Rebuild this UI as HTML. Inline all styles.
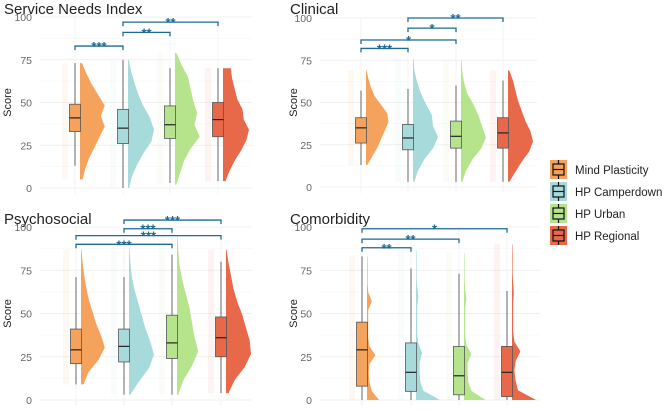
<!DOCTYPE html>
<html><head><meta charset="utf-8"><style>
body{margin:0;background:#fff;font-family:"Liberation Sans",sans-serif}
svg{display:block}
</style></head><body>
<svg id="c" width="669" height="410"></svg>
<script>
const groups=["Mind Plasticity","HP Camperdown","HP Urban","HP Regional"];
const colors=["#f5a35c","#a6dadb","#b5e48c","#e8694a"];
const panelTitles=["Service Needs Index","Clinical","Psychosocial","Comorbidity"];
const yTicks=[0,25,50,75,100];
// box stats: [lower whisker, q1, median, q3, upper whisker]
const boxSNI=[[13,33,41,49,73],[0,26,35,46,75],[3,29,37,48,70],[4,30,40,50,70]];
const boxCLI=[[13,26,35,41,57],[3,22,29,37,58],[3,23,30,39,60],[3,23,32,41,63]];
const boxPSY=[[9,21,29,41,71],[3,22,31,41,71],[3,24,33,49,84],[4,25,36,48,80]];
const boxCOM=[[0,8,29,45,83],[0,5,16,33,76],[0,3,14,31,73],[0,2,16,31,63]];
// violin ranges [min,max]
const rngSNI=[[5,73],[0,75],[2,79],[4,70]];
const rngCLI=[[13,69],[3,76],[3,75],[3,69]];
const rngPSY=[[9,87],[3,88],[3,95],[4,87]];
const rngCOM=[[0,83],[0,87],[0,85],[0,90]];
// relative density sampled evenly from min to max
const denSNI=[[0.1,0.2,0.35,0.55,0.75,0.95,0.8,0.95,0.7,0.45,0.25,0.08],[0.05,0.15,0.35,0.6,0.9,1,0.85,0.6,0.4,0.25,0.12,0.03],[0.05,0.2,0.35,0.6,0.95,0.75,0.85,0.7,0.6,0.5,0.25,0.05],[0.1,0.25,0.45,0.7,0.9,1,0.8,0.75,0.55,0.45,0.35,0.3]];
const denCLI=[[0.05,0.25,0.45,0.6,0.75,0.9,0.85,0.6,0.35,0.2,0.1,0.02],[0.05,0.2,0.45,0.8,1,0.8,0.75,0.5,0.3,0.15,0.05,0.02],[0.05,0.2,0.45,0.8,1,0.85,0.7,0.5,0.25,0.12,0.05,0.02],[0.05,0.3,0.55,0.85,1,0.9,0.7,0.55,0.4,0.3,0.2,0.05]];
const denPSY=[[0.1,0.3,0.7,0.95,0.8,0.6,0.45,0.3,0.2,0.12,0.06,0.02],[0.05,0.4,0.8,1,0.85,0.65,0.5,0.35,0.2,0.1,0.05,0.02],[0.05,0.25,0.6,0.85,0.7,0.6,0.5,0.35,0.2,0.1,0.05,0.02],[0.1,0.35,0.75,1,0.95,0.8,0.65,0.45,0.3,0.2,0.1,0.02]];
const denCOM=[[1,0.4,0.2,0.15,0.2,0.7,0.2,0.1,0.1,0.1,0.1,0.4,0.1,0.05,0.05,0.05,0.03],[2,0.6,0.35,0.3,0.3,0.5,0.2,0.1,0.1,0.1,0.1,0.2,0.1,0.05,0.05,0.05,0.03],[1.8,0.6,0.35,0.3,0.3,0.6,0.2,0.1,0.1,0.1,0.1,0.2,0.1,0.05,0.05,0.05,0.03],[2,0.5,0.3,0.2,0.3,0.7,0.2,0.1,0.1,0.1,0.1,0.15,0.1,0.05,0.05,0.05,0.03]];
// brackets [groupA, groupB, yValue, label]
const brSNI=[[0,1,83,"***"],[1,2,91,"**"],[1,3,97,"**"]];
const brCLI=[[0,1,82,"***"],[0,2,87,"*"],[1,2,94,"*"],[1,3,100,"**"]];
const brPSY=[[0,2,90,"***"],[0,3,95,"***"],[1,2,99,"***"],[1,3,104,"***"]];
const brCOM=[[0,1,88,"**"],[0,2,93,"**"],[0,3,99,"*"]];

const panels=[
 {title:panelTitles[0],box:boxSNI,rng:rngSNI,den:denSNI,br:brSNI,x0:40,x1:252,y100:17,y0:188,gx:[75,123,170,218],ty:14,w:26},
 {title:panelTitles[1],box:boxCLI,rng:rngCLI,den:denCLI,br:brCLI,x0:320,x1:537,y100:18,y0:187,gx:[361,408,456,503],ty:14,w:25},
 {title:panelTitles[2],box:boxPSY,rng:rngPSY,den:denPSY,br:brPSY,x0:40,x1:252,y100:227,y0:400,gx:[76,124,172,221],ty:224,w:25},
 {title:panelTitles[3],box:boxCOM,rng:rngCOM,den:denCOM,br:brCOM,x0:320,x1:540,y100:227,y0:400,gx:[362,411,459,507],ty:224,w:12}
];
const svg=document.getElementById('c');
const NS="http://www.w3.org/2000/svg";
function el(t,a,p){const e=document.createElementNS(NS,t);for(const k in a)e.setAttribute(k,a[k]);(p||svg).appendChild(e);return e;}
panels.forEach((P,pi)=>{
 const g=el('g',{});
 
 
 const y=v=>P.y0+(P.y100-P.y0)*v/100;
 const tx=pi%2===0?4:290;
 const t=el('text',{x:tx,y:P.ty,'font-size':15,fill:'#222'},g);t.textContent=P.title;
 
 
 yTicks.forEach(v=>{
  el('line',{x1:P.x0,x2:P.x1,y1:y(v),y2:y(v),stroke:'#ececec','stroke-width':0.8},g);
  const l=el('text',{x:P.x0-8,y:y(v)+4,'font-size':10.5,fill:'#666','text-anchor':'end'},g);l.textContent=v;
  
  
 });
 [12.5,37.5,62.5,87.5].forEach(v=>el('line',{x1:P.x0,x2:P.x1,y1:y(v),y2:y(v),stroke:'#f5f5f5','stroke-width':0.6},g));
 P.gx.forEach(x=>el('line',{x1:x,x2:x,y1:y(100),y2:y(0)+6,stroke:'#f0f0f0','stroke-width':0.8},g));
 const yl=el('text',{x:0,y:0,'font-size':11,fill:'#222','text-anchor':'middle',transform:`translate(${pi%2===0?11:297},${(y(0)+y(100))/2}) rotate(-90)`},g);yl.textContent="Score";
 
 
 P.gx.forEach((x,i)=>{
  const [a,b]=P.rng[i],d=P.den[i],n=d.length;
  let pts=`${x+5},${y(a)} `;
  for(let k=0;k<n;k++){const v=a+(b-a)*k/(n-1);pts+=`${x+5+d[k]*P.w},${y(v)} `;}
  pts+=`${x+5},${y(b)}`;
  const v=el('polygon',{points:pts,fill:colors[i]},g);
  
  
  el('rect',{x:x-13,y:y(b),width:6,height:y(a)-y(b),fill:colors[i],opacity:0.08},g);
  const s=P.box[i];
  el('line',{x1:x,x2:x,y1:y(s[0]),y2:y(s[4]),stroke:'#666','stroke-width':1},g);
  const r=el('rect',{x:x-5.5,y:y(s[3]),width:11,height:y(s[1])-y(s[3]),fill:colors[i],stroke:'#555','stroke-width':0.8},g);
  
  
  el('line',{x1:x-5.5,x2:x+5.5,y1:y(s[2]),y2:y(s[2]),stroke:'#222','stroke-width':1.2},g);
 });
 P.br.forEach(([A,B,v,lab])=>{
  const xa=P.gx[A],xb=P.gx[B],yy=y(v);
  const p=el('path',{d:`M${xa},${yy+4}V${yy}H${xb}V${yy+4}`,fill:'none',stroke:'#1f6a93','stroke-width':1.3},g);
  
  
  const tt=el('text',{x:(xa+xb)/2,y:yy+5,'font-size':13,fill:'#1f6a93','text-anchor':'middle','font-weight':'bold'},g);tt.textContent=lab;
  
  
 });
});
const lg=el('g',{});


groups.forEach((n,i)=>{
 const yy=160+i*22;
 const it=el('g',{},lg);
 
 
 el('rect',{x:550,y:yy,width:17,height:19,fill:colors[i]},it);
 el('rect',{x:553,y:yy+4,width:11,height:11,fill:'none',stroke:'#111','stroke-width':1.2},it);
 el('line',{x1:553,x2:564,y1:yy+9.5,y2:yy+9.5,stroke:'#111','stroke-width':1.2},it);
 el('line',{x1:558.5,x2:558.5,y1:yy,y2:yy+4,stroke:'#111','stroke-width':1.2},it);
 el('line',{x1:558.5,x2:558.5,y1:yy+15,y2:yy+19,stroke:'#111','stroke-width':1.2},it);
 const t=el('text',{x:575,y:yy+14,'font-size':11.5,fill:'#222'},it);t.textContent=n;
});
</script>
</body></html>
